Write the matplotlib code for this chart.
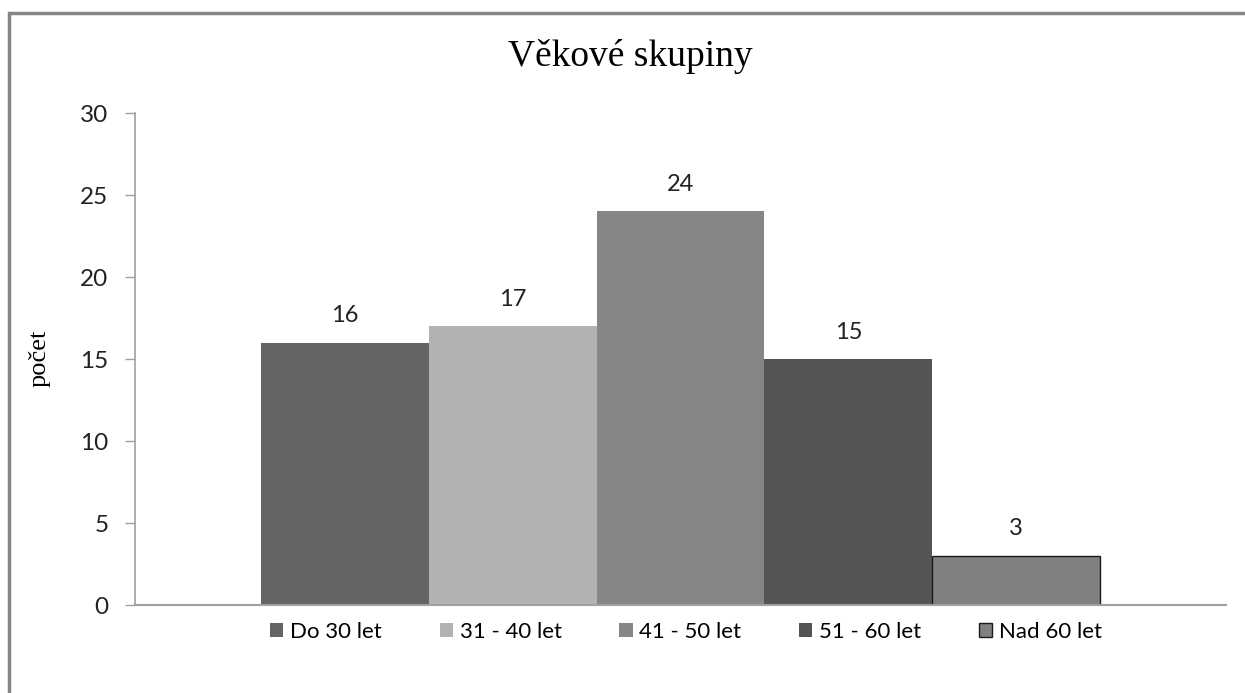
import matplotlib.pyplot as plt
from matplotlib.patches import Rectangle

# věkové skupiny respondentů
skupiny = ['Do 30 let', '31 - 40 let', '41 - 50 let', '51 - 60 let', 'Nad 60 let']
pocty = [16, 17, 24, 15, 3]
barvy = ['#646464', '#b2b2b2', '#868686', '#545454', '#808080']
okraje = ['none', 'none', 'none', 'none', '#1a1a1a']

fig = plt.figure(figsize=(12.45, 6.93), dpi=100)
ax = fig.add_axes([135 / 1245, 88 / 693, (1226 - 135) / 1245, (605 - 113) / 693])

# rámeček kolem celého grafu
fig.patches.append(Rectangle((9 / 1245, -0.1), 1.2, (693 - 13) / 693 + 0.1,
                             transform=fig.transFigure, fill=False,
                             edgecolor='#868686', linewidth=2.5))

pozice = list(range(len(pocty)))
sloupce = ax.bar(pozice, pocty, width=1.0, color=barvy, edgecolor=okraje,
                 linewidth=1.0, label=skupiny)
for x, v in zip(pozice, pocty):
    ax.text(x, v + 1.0, str(v), ha='center', va='bottom',
            fontsize=17, family='Lato', color='#222222')

ax.set_xlim(-1.25, 5.25)
ax.set_ylim(0, 30)
ax.set_yticks(range(0, 31, 5))
ax.set_xticks([])
for lab in ax.get_yticklabels():
    lab.set_family('Lato')
    lab.set_fontsize(17.5)
    lab.set_color('#222222')
ax.tick_params(axis='y', length=7, width=1, color='#a0a0a0', pad=12)
for s in ['top', 'right']:
    ax.spines[s].set_visible(False)
ax.spines['left'].set_color('#a0a0a0')
ax.spines['bottom'].set_color('#a0a0a0')
ax.spines['left'].set_linewidth(1.2)
ax.spines['bottom'].set_linewidth(1.5)

fig.text(630 / 1245, 1 - 57 / 693, 'Věkové skupiny', ha='center', va='center',
         family='Liberation Serif', fontsize=27)
fig.text(40 / 1245, 1 - 358 / 693, 'počet', ha='center', va='center',
         rotation=90, family='Liberation Serif', fontsize=19)

leg = fig.legend(handles=list(sloupce), labels=skupiny, loc='center',
                 bbox_to_anchor=(686 / 1245, 1 - 632 / 693), ncol=5, frameon=False,
                 prop={'family': 'Lato', 'size': 16},
                 handlelength=0.6, handleheight=0.6, handletextpad=0.3,
                 columnspacing=2.6)

fig.savefig('out.png', dpi=100)
